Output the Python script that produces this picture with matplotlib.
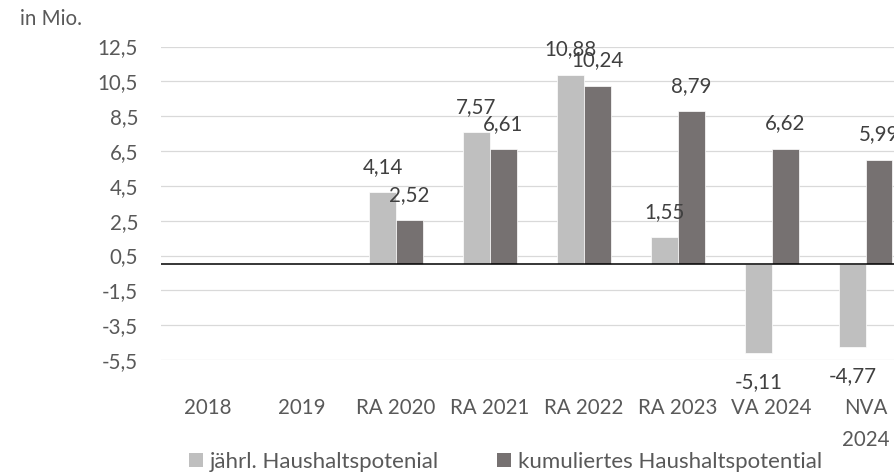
import numpy as np
import matplotlib
matplotlib.use('Agg')
import matplotlib.pyplot as plt
from matplotlib.patches import Patch

plt.rcParams['font.family'] = ['Lato', 'DejaVu Sans']

categories = ['2018', '2019', 'RA 2020', 'RA 2021', 'RA 2022', 'RA 2023', 'VA 2024', 'NVA\n2024']
jaehrl = [np.nan, np.nan, 4.14, 7.57, 10.88, 1.55, -5.11, -4.77]
kumuliert = [np.nan, np.nan, 2.52, 6.61, 10.24, 8.79, 6.62, 5.99]
y_ticks = [-5.5, -3.5, -1.5, 0.5, 2.5, 4.5, 6.5, 8.5, 10.5, 12.5]

LIGHT = '#BFBFBF'
DARK = '#767171'
TXT = '#595959'
LBL = '#404040'
FS = 14.8


def de(v, nd):
    return f'{v:.{nd}f}'.replace('.', ',')


fig = plt.figure(figsize=(8.95, 4.75), dpi=100)
ax = fig.add_axes([161.15 / 895, 1 - 360 / 475, 751.5 / 895, 313.5 / 475])

x = np.arange(len(categories)) + 0.5
w = 0.285

ax.bar(x - w / 2, jaehrl, w, color=LIGHT, edgecolor='white', linewidth=0.5, zorder=2)
ax.bar(x + w / 2, kumuliert, w, color=DARK, edgecolor='white', linewidth=0.5, zorder=2)

# Datenbeschriftungen
for xs, vals in ((x - w / 2, jaehrl), (x + w / 2, kumuliert)):
    for xi, v in zip(xs, vals):
        if np.isnan(v):
            continue
        off = 14 if v >= 0 else -25.2
        ax.annotate(de(v, 2), xy=(xi, v), xytext=(0, off), textcoords='offset points',
                    ha='center', va='baseline', fontsize=FS, color=LBL)

ax.axhline(0, color='black', linewidth=1.1, zorder=3)

ax.set_xlim(0, len(categories))
ax.set_ylim(-5.5, 12.5)
ax.set_yticks(y_ticks)
ax.set_yticklabels([de(t, 1) for t in y_ticks])
ax.set_xticks(x)
ax.set_xticklabels(categories)
for lab in ax.get_xticklabels():
    lab.set_linespacing(1.8)

ax.tick_params(axis='y', length=0, pad=16.5, labelsize=FS, labelcolor=TXT)
ax.tick_params(axis='x', length=0, pad=27, labelsize=FS, labelcolor=TXT)
ax.yaxis.grid(True, color='#D9D9D9', linewidth=0.9)
ax.set_axisbelow(True)
for s in ax.spines.values():
    s.set_visible(False)

fig.text(20 / 895, 1 - 25 / 475, 'in Mio.', fontsize=FS, color=TXT, ha='left', va='baseline')

handles = [Patch(facecolor=LIGHT, label='jährl. Haushaltspotenial'),
           Patch(facecolor=DARK, label='kumuliertes Haushaltspotential')]
fig.legend(handles=handles, loc='center', bbox_to_anchor=(505.5 / 895, 1 - 462 / 475),
           ncol=2, frameon=False, fontsize=16, labelcolor=TXT,
           handlelength=0.63, handleheight=0.63, handletextpad=0.32,
           columnspacing=2.6, borderpad=0, borderaxespad=0)

fig.savefig('out.png', dpi=100)
